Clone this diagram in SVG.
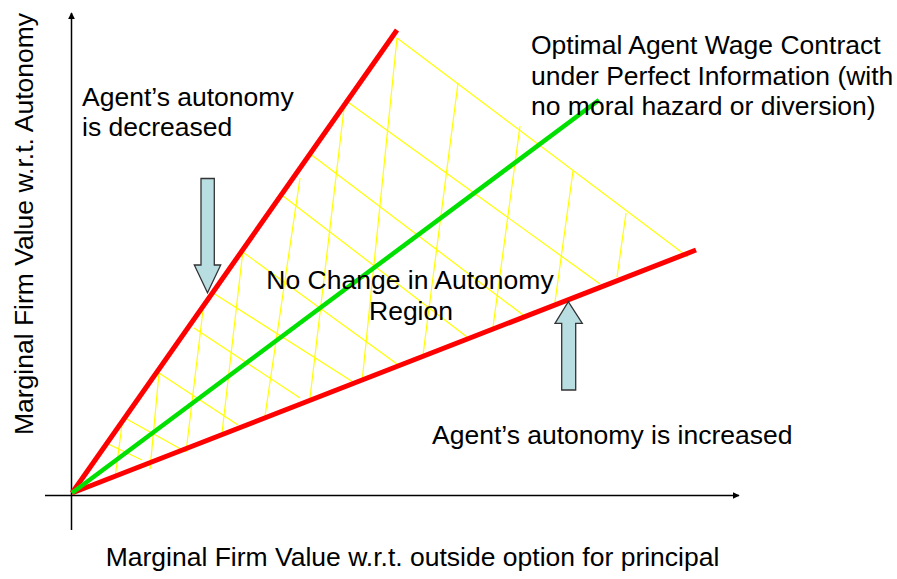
<svg xmlns="http://www.w3.org/2000/svg" width="897" height="579" viewBox="0 0 897 579">
<style>
text{font-family:"Liberation Sans",Arial,sans-serif;font-size:26.5px;fill:#000}
.axis{stroke:#000;stroke-width:1.5;fill:none}
.hatch line{stroke:#FFFF00;stroke-width:1.2}
.red{stroke:#FF0000;stroke-width:5;stroke-linecap:butt}
.green{stroke:#00E000;stroke-width:4.5}
.arrow{fill:#B8DEE2;stroke:#333;stroke-width:1.3}
</style>
<defs>
<marker id="ah" viewBox="0 0 10 10" refX="9" refY="5" markerWidth="7" markerHeight="7" markerUnits="userSpaceOnUse" orient="auto">
<path d="M0,0L10,5L0,10z" fill="#000"/>
</marker>
</defs>
<g id="axes">
<line class="axis" x1="71.5" y1="530" x2="71.5" y2="13" marker-end="url(#ah)"/>
<line class="axis" x1="45" y1="495.5" x2="739" y2="495.5" marker-end="url(#ah)"/>
</g>
<g id="region-hatch" class="hatch">
<line x1="106" y1="443" x2="142" y2="460"/>
<line x1="123" y1="417" x2="186" y2="452"/>
<line x1="159" y1="373" x2="238" y2="425"/>
<line x1="194" y1="328" x2="300" y2="398"/>
<line x1="213" y1="293" x2="353" y2="382"/>
<line x1="240" y1="250" x2="397" y2="364"/>
<line x1="283" y1="196" x2="467" y2="337"/>
<line x1="309" y1="153" x2="527" y2="318"/>
<line x1="345" y1="100" x2="600" y2="284"/>
<line x1="397" y1="38" x2="688" y2="257"/>
<line x1="123" y1="417" x2="115" y2="478"/>
<line x1="159" y1="373" x2="150" y2="469"/>
<line x1="203" y1="310" x2="186" y2="452"/>
<line x1="243" y1="250" x2="222" y2="433"/>
<line x1="300" y1="178" x2="265" y2="416"/>
<line x1="345" y1="100" x2="310" y2="398"/>
<line x1="397" y1="38" x2="362" y2="382"/>
<line x1="458" y1="83" x2="423" y2="355"/>
<line x1="520" y1="126" x2="493" y2="327"/>
<line x1="573" y1="171" x2="555" y2="302"/>
<line x1="626" y1="213" x2="617" y2="277"/>
</g>
<g id="connectors">
<line id="upper-bound" class="red" x1="72" y1="493" x2="397" y2="30"/>
<line id="lower-bound" class="red" x1="72" y1="493" x2="696" y2="250"/>
<line id="optimal-contract" class="green" x1="72" y1="493" x2="599" y2="100"/>
</g>
<g id="arrow-down">
<path class="arrow" d="M201,178.5H214.3V265H220.7L207.5,292.7L194.3,265H201Z"/>
</g>
<g id="arrow-up">
<path class="arrow" d="M561.7,390H575.7V323.3H582.3L568.3,301.7L555,323.3H561.7Z"/>
</g>
<g id="label-decreased">
<text x="82" y="106">Agent’s autonomy</text>
<text x="82" y="136">is decreased</text>
</g>
<g id="label-optimal">
<text x="531" y="54">Optimal Agent Wage Contract</text>
<text x="531" y="85">under Perfect Information (with</text>
<text x="531" y="115">no moral hazard or diversion)</text>
</g>
<g id="label-region">
<text x="410" y="289" text-anchor="middle">No Change in Autonomy</text>
<text x="411" y="320" text-anchor="middle">Region</text>
</g>
<g id="label-increased">
<text x="432" y="444">Agent’s autonomy is increased</text>
</g>
<g id="axis-labels">
<text transform="translate(33,224) rotate(-90)" text-anchor="middle">Marginal Firm Value w.r.t. Autonomy</text>
<text x="412.5" y="566" text-anchor="middle">Marginal Firm Value w.r.t. outside option for principal</text>
</g>
</svg>
